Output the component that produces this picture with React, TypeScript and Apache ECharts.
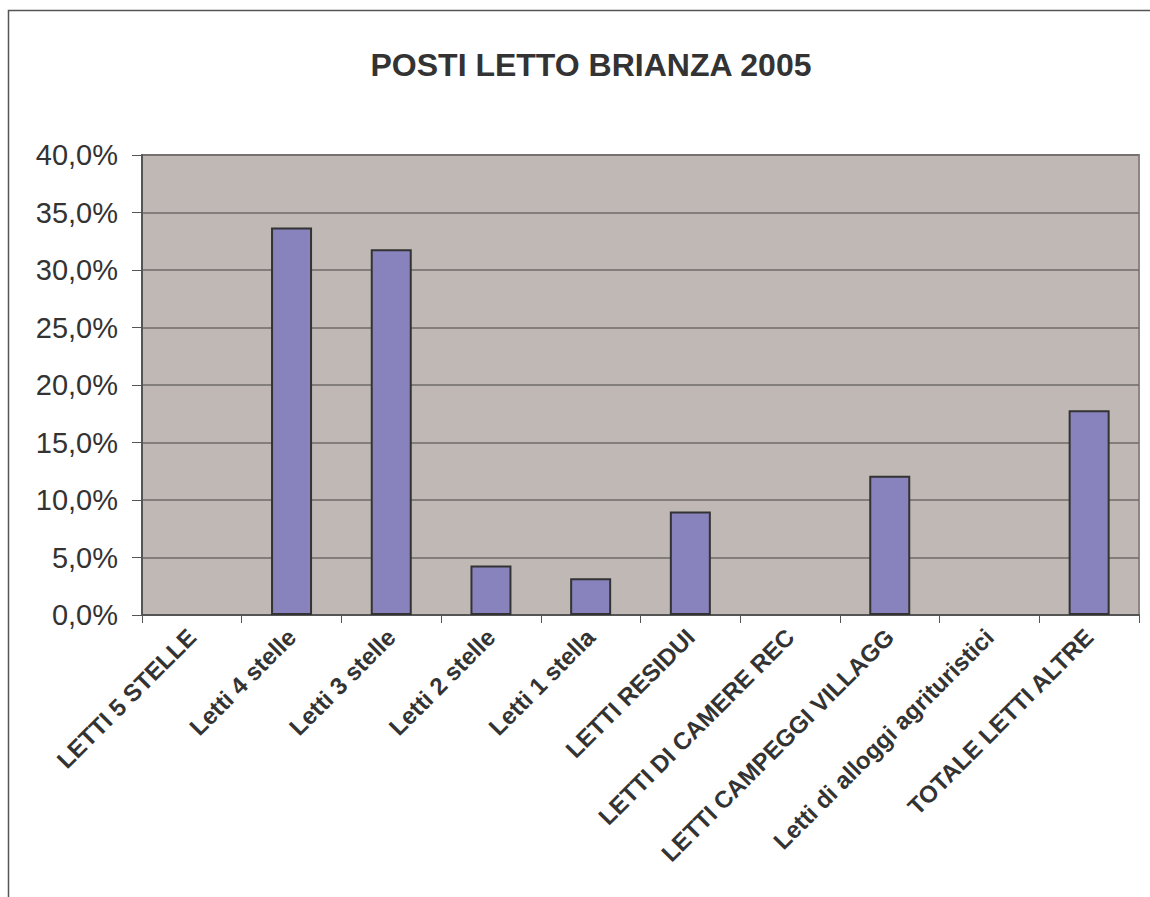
import React, { useEffect, useRef } from "react";
import * as echarts from "echarts";

const categories = [
  "LETTI 5 STELLE",
  "Letti 4 stelle",
  "Letti 3 stelle",
  "Letti 2 stelle",
  "Letti 1 stella",
  "LETTI RESIDUI",
  "LETTI DI CAMERE REC",
  "LETTI CAMPEGGI VILLAGG",
  "Letti di alloggi agrituristici",
  "TOTALE LETTI ALTRE",
];
const values = [0, 33.7, 31.8, 4.3, 3.2, 9.0, 0, 12.1, 0, 17.8];
const titleText = "POSTI LETTO BRIANZA 2005";

export default function App() {
  const ref = useRef<HTMLDivElement>(null);
  useEffect(() => {
    if (!ref.current) return;
    const chart = echarts.init(ref.current, undefined, { renderer: "svg" });
    const font = "Liberation Sans, Arial, sans-serif";
    chart.setOption({
      animation: false,
      backgroundColor: "#ffffff",
      title: {
        text: titleText,
        left: 586,
        textAlign: "center",
        top: 44,
        textStyle: { fontFamily: font, fontWeight: "bold", fontSize: 32, color: "#333333" },
      },
      graphic: [
        {
          type: "polyline",
          shape: { points: [[8.5, 900], [8.5, 10.5], [1160, 10.5]] },
          style: { stroke: "#555555", lineWidth: 1.5, fill: "none" },
        },
      ],
      grid: {
        left: 142,
        right: 11,
        top: 155,
        bottom: 282,
        show: true,
        backgroundColor: "#c0b8b5",
        borderColor: "#8e8585",
        borderWidth: 2,
      },
      xAxis: {
        type: "category",
        data: categories,
        boundaryGap: true,
        axisLine: { lineStyle: { color: "#555555", width: 2 } },
        axisTick: { show: true, length: 8, alignWithLabel: false, lineStyle: { color: "#555555" } },
        axisLabel: {
          rotate: 45,
          interval: 0,
          margin: 18,
          fontFamily: font,
          fontWeight: "bold",
          fontSize: 24,
          color: "#333333",
        },
      },
      yAxis: {
        type: "value",
        min: 0,
        max: 40,
        interval: 5,
        axisLine: { show: true, lineStyle: { color: "#555555", width: 2 } },
        axisTick: { show: true, length: 10, inside: false, lineStyle: { color: "#555555" } },
        splitLine: { show: true, lineStyle: { color: "#6f6a6a", width: 1.5 } },
        axisLabel: {
          margin: 24,
          fontFamily: font,
          fontSize: 29,
          color: "#333333",
          formatter: (v: number) => v.toFixed(1).replace(".", ",") + "%",
        },
      },
      series: [
        {
          type: "bar",
          data: values.map((v) => (v === 0 ? "-" : v)),
          barWidth: 41,
          itemStyle: { color: "#8882bd", borderColor: "#333333", borderWidth: 2 },
        },
      ],
    });
    return () => chart.dispose();
  }, []);
  return (
    <div
      ref={ref}
      style={{ position: "fixed", left: 0, top: 0, width: 1150, height: 897 }}
    />
  );
}
